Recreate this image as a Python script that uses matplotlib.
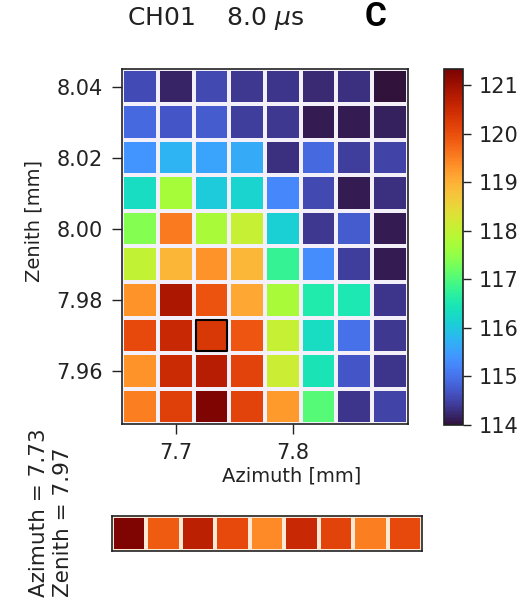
import numpy as np
import matplotlib
matplotlib.use("Agg")
import matplotlib.pyplot as plt
from matplotlib.patches import Rectangle

# ---- data ----
azimuth = [7.669, 7.700, 7.730, 7.761, 7.791, 7.822, 7.852, 7.883]
zenith = [7.95, 7.96, 7.97, 7.98, 7.99, 8.00, 8.01, 8.02, 8.03, 8.04]
# rows from bottom (7.95) to top (8.04)
values = [
    [119.50, 120.20, 121.30, 120.15, 119.25, 117.05, 114.35, 114.50],
    [119.30, 120.50, 120.75, 120.15, 118.10, 116.45, 114.70, 114.35],
    [120.05, 120.55, 120.30, 119.90, 118.05, 116.30, 115.00, 114.40],
    [119.30, 120.85, 119.95, 119.10, 117.75, 116.55, 116.50, 114.35],
    [118.00, 118.95, 119.30, 118.90, 116.80, 115.30, 114.45, 114.10],
    [117.40, 119.55, 117.75, 118.05, 116.10, 114.40, 114.75, 114.10],
    [116.30, 117.70, 116.05, 116.15, 115.25, 114.55, 114.10, 114.30],
    [115.40, 115.75, 115.55, 115.65, 114.30, 114.90, 114.45, 114.50],
    [114.90, 114.70, 114.75, 114.45, 114.40, 114.10, 114.10, 114.15],
    [114.60, 114.20, 114.55, 114.40, 114.35, 114.25, 114.30, 114.00],
]
strip_values = [121.30, 119.85, 120.70, 120.05, 119.40, 120.55, 120.15, 119.50, 120.05]
cbar_ticks = [114, 115, 116, 117, 118, 119, 120, 121]
sel_az, sel_ze = 7.73, 7.97
title = "CH01    8.0 $\\mu$s"
vmin, vmax = 114.0, 121.33

# ---- figure ----
W, H = 531, 602
fig = plt.figure(figsize=(W / 100, H / 100), dpi=100)

def px(l, t, r, b):
    return [l / W, 1 - b / H, (r - l) / W, (b - t) / H]

ax = fig.add_axes(px(122, 69, 408, 424))
mesh = ax.pcolormesh(azimuth, zenith, np.array(values), cmap="turbo",
                     vmin=vmin, vmax=vmax, shading="nearest",
                     edgecolors="#f4f0fa", linewidth=1.6)
ax.set_xticks([7.7, 7.8])
ax.set_yticks([7.96, 7.98, 8.00, 8.02, 8.04])
ax.set_yticklabels(["7.96", "7.98", "8.00", "8.02", "8.04"])
ax.tick_params(labelsize=15, length=7, width=1, pad=7, colors="#222222")
for s in ax.spines.values():
    s.set_edgecolor("#222222")
    s.set_linewidth(1.2)
ax.set_xlabel("Azimuth [mm]", fontsize=14, color="#222222")
ax.set_ylabel("Zenith [mm]", fontsize=14, color="#222222")
ax.xaxis.set_label_coords(0.594, -0.121)
ax.yaxis.set_label_coords(-0.273, 0.572)

# highlight selected cell
dx = azimuth[1] - azimuth[0]
dz = zenith[1] - zenith[0]
ax.add_patch(Rectangle((sel_az - dx * 0.43, sel_ze - dz * 0.43), dx * 0.86, dz * 0.86,
                       fill=False, edgecolor="black", linewidth=1.5,
                       joinstyle="round", zorder=5))

# colorbar
cax = fig.add_axes(px(444, 69, 463, 425))
cb = fig.colorbar(mesh, cax=cax, ticks=cbar_ticks)
cb.ax.tick_params(labelsize=15, length=6, width=1, pad=5, colors="#222222")
cb.outline.set_edgecolor("#222222")
cb.outline.set_linewidth(1.2)

# strip
sax = fig.add_axes(px(112, 516, 422, 551))
sax.pcolormesh(np.array([strip_values]), cmap="turbo", vmin=vmin, vmax=vmax,
               edgecolors="#fbe9d6", linewidth=1.6)
sax.set_xticks([])
sax.set_yticks([])
for s in sax.spines.values():
    s.set_edgecolor("#222222")
    s.set_linewidth(1.2)

# texts
fig.text(216 / W, 1 - 18 / H, title, fontsize=18, ha="center", va="center", color="#222222")
fig.text(376 / W, 1 - 17 / H, "C", fontsize=24, ha="center", va="center",
         family="Roboto", weight="bold", color="black")
fig.text(51 / W, 1 - 597 / H, f"Azimuth = {sel_az:.2f}\nZenith = {sel_ze:.2f}",
         rotation=90, fontsize=15.5, ha="center", va="bottom", color="#222222",
         multialignment="left")

fig.savefig("out.png", dpi=100)
